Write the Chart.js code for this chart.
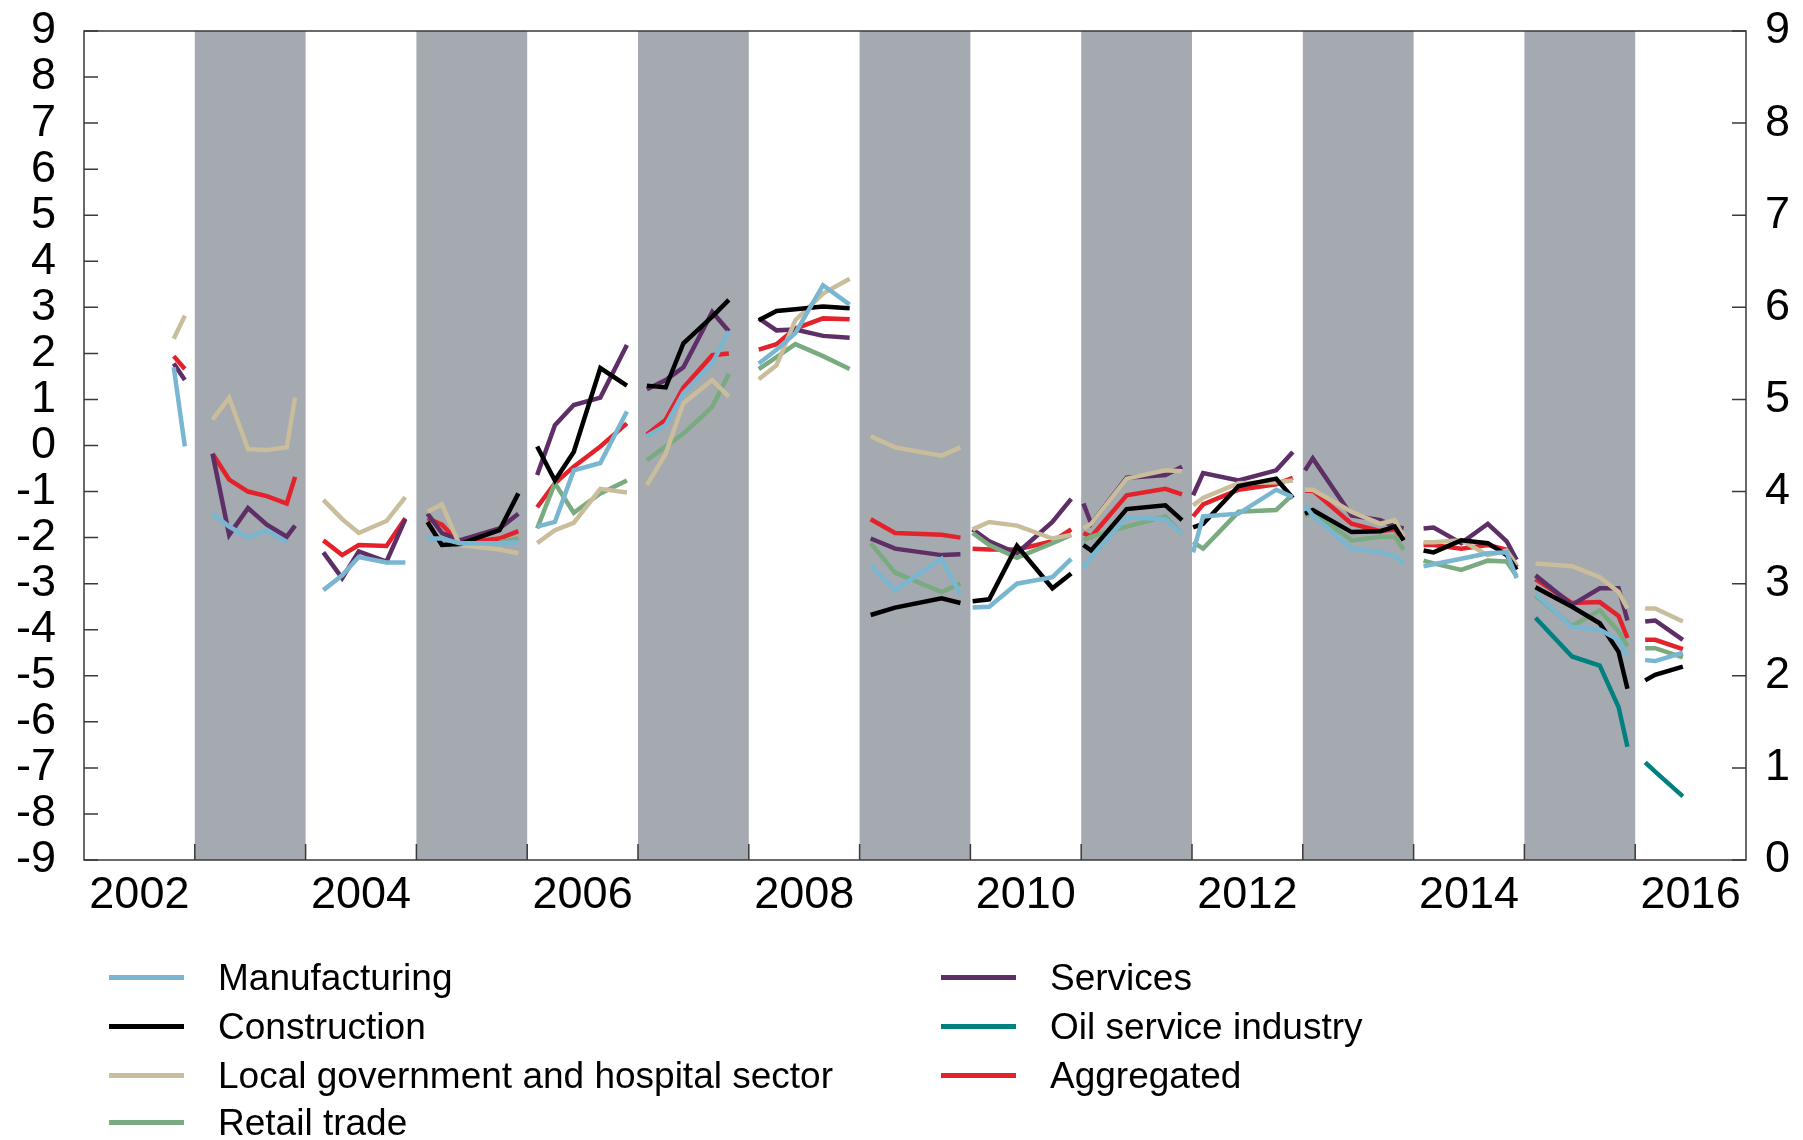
<!DOCTYPE html>
<html>
<head>
<meta charset="utf-8">
<script src="https://cdn.jsdelivr.net/npm/chart.js@4.4.1/dist/chart.umd.min.js"></script>
<style>
html,body{margin:0;padding:0;background:#fff;}
#wrap{position:relative;width:1803px;height:1140px;}
#legend{position:absolute;left:0;top:0;font-family:"Liberation Sans",Arial,sans-serif;font-size:37px;color:#000;}
.item{position:absolute;height:48px;line-height:48px;white-space:nowrap;}
.swatch{position:absolute;left:0;top:21px;width:75px;height:5px;}
.text{position:absolute;left:109px;top:0;}
</style>
</head>
<body>
<div id="wrap">
<canvas id="chart" width="1803" height="1140"></canvas>
<div id="legend"></div>
</div>
<script>

// survey rounds inside each year (fraction of year), one list per year 2002..2016
const years = [2002,2003,2004,2005,2006,2007,2008,2009,2010,2011,2012,2013,2014,2015,2016];
const rounds = [
    [2002.81,2002.91],
    [2003.16,2003.31,2003.48,2003.65,2003.83,2003.905],
    [2004.16,2004.33,2004.48,2004.73,2004.90],
    [2005.10,2005.23,2005.39,2005.75,2005.92],
    [2006.09,2006.25,2006.42,2006.66,2006.90],
    [2007.08,2007.25,2007.41,2007.67,2007.82],
    [2008.09,2008.25,2008.42,2008.67,2008.91],
    [2009.10,2009.32,2009.74,2009.91],
    [2010.02,2010.17,2010.42,2010.74,2010.91],
    [2011.02,2011.09,2011.41,2011.76,2011.91],
    [2012.01,2012.10,2012.42,2012.76,2012.91],
    [2013.02,2013.09,2013.44,2013.70,2013.83,2013.91],
    [2014.09,2014.18,2014.43,2014.67,2014.84,2014.93],
    [2015.10,2015.43,2015.68,2015.85,2015.93],
    [2016.09,2016.18,2016.43]
];

const manufacturing = [
    [5.35,4.49],
    [3.76,3.62,3.50,3.58,3.45,null],
    [2.93,3.09,3.29,3.23,3.23],
    [3.49,3.49,3.44,3.44,3.45],
    [3.62,3.67,4.23,4.31,4.87],
    [4.60,4.72,5.07,5.39,5.74],
    [5.39,5.54,5.72,6.24,6.03],
    [3.20,2.93,3.27,2.88],
    [2.74,2.75,3.00,3.07,3.27],
    [3.17,3.29,3.72,3.70,3.54],
    [3.34,3.73,3.76,4.02,3.94],
    [3.85,3.74,3.38,3.34,3.30,3.22],
    [3.19,3.21,3.27,3.33,3.34,3.06],
    [2.89,2.53,2.50,2.39,2.21],
    [2.17,2.16,2.25]
];

const construction = [
    null,
    null,
    null,
    [3.67,3.42,3.43,3.58,3.98],
    [4.49,4.12,4.43,5.34,5.15],
    [5.15,5.13,5.61,5.90,6.08],
    [5.86,5.96,5.98,6.01,5.99],
    [2.66,2.74,2.84,2.79],
    [2.81,2.83,3.41,2.95,3.11],
    [3.42,3.36,3.81,3.85,3.69],
    [3.61,3.65,4.06,4.14,3.93],
    [3.76,3.80,3.56,3.57,3.62,3.47],
    [3.36,3.34,3.47,3.44,3.31,3.15],
    [2.96,2.75,2.57,2.26,1.86],
    [1.95,2.01,2.10]
];

const localGov = [
    [5.66,5.91],
    [4.78,5.02,4.46,4.45,4.48,5.02],
    [3.91,3.70,3.55,3.68,3.94],
    [3.78,3.86,3.42,3.37,3.33],
    [3.44,3.58,3.66,4.03,3.99],
    [4.07,4.41,4.96,5.21,5.03],
    [5.22,5.37,5.86,6.15,6.31],
    [4.60,4.48,4.39,4.48],
    [3.59,3.67,3.63,3.49,3.53],
    [3.60,3.65,4.14,4.23,4.22],
    [3.85,3.93,4.09,4.10,4.12],
    [4.02,4.02,3.78,3.65,3.69,3.51],
    [3.45,3.45,3.47,3.31,3.36,3.20],
    [3.22,3.19,3.07,2.91,2.73],
    [2.73,2.73,2.59]
];

const retail = [
    null,
    null,
    null,
    [null,null,null,3.45,3.49],
    [3.60,4.09,3.77,3.98,4.12],
    [4.34,4.49,4.63,4.92,5.28],
    [5.33,5.46,5.60,5.47,5.33],
    [3.44,3.12,2.91,3.00],
    [3.55,3.42,3.28,3.44,3.53],
    [3.47,3.51,3.62,3.73,3.54],
    [3.45,3.38,3.78,3.80,3.97],
    [3.73,3.78,3.47,3.51,3.51,3.37],
    [3.25,3.22,3.15,3.25,3.24,3.08],
    [2.87,2.54,2.71,2.48,2.32],
    [2.30,2.30,2.20]
];

const services = [
    [5.39,5.21],
    [4.41,3.53,3.82,3.64,3.51,3.63],
    [3.34,3.06,3.35,3.24,3.70],
    [3.76,3.55,3.47,3.60,3.76],
    [4.18,4.72,4.94,5.02,5.59],
    [5.11,5.21,5.35,5.95,5.74],
    [5.88,5.75,5.76,5.69,5.67],
    [3.49,3.38,3.31,3.32],
    [3.59,3.46,3.33,3.67,3.92],
    [3.87,3.65,4.15,4.18,4.27],
    [3.96,4.20,4.12,4.23,4.43],
    [4.23,4.36,3.74,3.69,3.62,3.60],
    [3.60,3.61,3.44,3.65,3.46,3.26],
    [3.09,2.77,2.95,2.95,2.60],
    [2.59,2.60,2.39]
];

const oilService = [
    null,null,null,null,null,null,null,null,null,null,null,null,null,
    [2.63,2.21,2.11,1.66,1.23],
    [1.06,0.96,0.69]
];

const aggregated = [
    [5.47,5.33],
    [4.41,4.13,4.00,3.95,3.87,4.16],
    [3.47,3.31,3.42,3.41,3.71],
    [3.71,3.64,3.44,3.49,3.57],
    [3.83,4.09,4.27,4.49,4.74],
    [4.62,4.78,5.13,5.48,5.50],
    [5.54,5.60,5.77,5.88,5.87],
    [3.70,3.55,3.53,3.50],
    [3.38,3.37,3.37,3.46,3.59],
    [3.55,3.51,3.96,4.03,3.97],
    [3.73,3.86,4.02,4.08,4.15],
    [4.01,4.01,3.65,3.57,3.59,3.48],
    [3.42,3.42,3.38,3.42,3.37,3.18],
    [3.05,2.79,2.80,2.65,2.41],
    [2.39,2.39,2.29]
];

const seriesNames = [
    "Manufacturing",
    "Construction",
    "Local government and hospital sector",
    "Retail trade",
    "Services",
    "Oil service industry",
    "Aggregated"
];
const seriesValues = [manufacturing,construction,localGov,retail,services,oilService,aggregated];

const labelYears = [2002,2004,2006,2008,2010,2012,2014,2016];
const shadedYears = [2003,2005,2007,2009,2011,2013,2015];

const colors = ["#79b6d1","#000000","#c9bd9b","#7aaa7f","#5e2f66","#00807f","#e3222b"];
const FONT = '"Liberation Sans", Arial, sans-serif';


function buildData(values){
    let data=[];
    rounds.forEach((xs,i)=>{
        let yr = values[i] || [];
        xs.forEach((x,j)=>{
            data.push({x:x, y: yr[j] ?? null});
        });
        // break the line between years
        data.push({x:years[i]+0.97, y:null});
    });
    return data;
}


const framePlugin = {
    id:"frame",
    beforeDatasetsDraw(chart){
        const {ctx, chartArea:a, scales} = chart;
        ctx.save();
        ctx.fillStyle = "#a4aab0";
        shadedYears.forEach(y=>{
            let x0 = scales.x.getPixelForValue(y);
            let x1 = scales.x.getPixelForValue(y+1);
            ctx.fillRect(x0, a.top, x1-x0, a.bottom-a.top);
        });
        ctx.restore();
    },
    afterDatasetsDraw(chart){
        const {ctx, chartArea:a, scales} = chart;
        ctx.save();
        ctx.strokeStyle = "#3a3a3a";
        ctx.lineWidth = 1.5;
        ctx.beginPath();
        // inner tick marks, left axis
        for(let v=-9; v<=9; v++){
            let y = scales.y.getPixelForValue(v);
            ctx.moveTo(a.left, y);
            ctx.lineTo(a.left+14, y);
        }
        // right axis
        for(let v=0; v<=9; v++){
            let y = scales.y2.getPixelForValue(v);
            ctx.moveTo(a.right, y);
            ctx.lineTo(a.right-14, y);
        }
        // year boundaries
        for(let v=2003; v<=2016; v++){
            let x = scales.x.getPixelForValue(v);
            ctx.moveTo(x, a.bottom);
            ctx.lineTo(x, a.bottom-16);
        }
        ctx.stroke();
        ctx.strokeRect(a.left, a.top, a.right-a.left, a.bottom-a.top);
        ctx.restore();
    }
};


let datasets = seriesNames.map((name,i)=>({
    label:name,
    data:buildData(seriesValues[i]),
    borderColor:colors[i],
    backgroundColor:colors[i],
    borderWidth:4.5,
    pointRadius:0,
    fill:false,
    spanGaps:false,
    yAxisID:"y2"
}));


new Chart(
    document.getElementById("chart"),
    {
        type:"line",
        data:{datasets:datasets},
        plugins:[framePlugin],
        options:{
            responsive:false,
            animation:false,
            devicePixelRatio:1,
            layout:{padding:{top:31,left:0,right:0,bottom:220}},
            plugins:{
                legend:{display:false},
                tooltip:{enabled:false}
            },
            scales:{
                x:{
                    type:"linear",
                    min:2002,
                    max:2017,
                    afterBuildTicks:s=>{
                        s.ticks = labelYears.map(v=>({value:v+0.5}));
                    },
                    afterFit:s=>{
                        s.height = 60;
                        s.paddingLeft = 0;
                        s.paddingRight = 0;
                    },
                    ticks:{
                        callback:v=>String(Math.floor(v)),
                        font:{family:FONT,size:45},
                        color:"#000",
                        padding:9,
                        maxRotation:0,
                        autoSkip:false
                    },
                    grid:{display:false,drawTicks:false},
                    border:{display:false}
                },
                y:{
                    type:"linear",
                    position:"left",
                    min:-9,
                    max:9,
                    afterFit:s=>{
                        s.width = 84;
                        s.paddingTop = 0;
                        s.paddingBottom = 0;
                    },
                    ticks:{
                        stepSize:1,
                        autoSkip:false,
                        font:{family:FONT,size:45,lineHeight:1},
                        color:"#000",
                        padding:28
                    },
                    grid:{display:false,drawTicks:false},
                    border:{display:false}
                },
                y2:{
                    type:"linear",
                    position:"right",
                    min:0,
                    max:9,
                    afterFit:s=>{
                        s.width = 57;
                        s.paddingTop = 0;
                        s.paddingBottom = 0;
                    },
                    ticks:{
                        stepSize:1,
                        autoSkip:false,
                        font:{family:FONT,size:45},
                        color:"#000",
                        padding:19
                    },
                    grid:{display:false,drawTicks:false},
                    border:{display:false}
                }
            }
        }
    }
);


// legend, two columns like the original
const legendCols = [109,941];
const legendRows = [978,1027,1076,1123];
let legend = document.getElementById("legend");
seriesNames.forEach((name,i)=>{
    let col = i<4 ? 0 : 1;
    let row = i<4 ? i : i-4;
    let item = document.createElement("div");
    item.className = "item";
    item.style.left = legendCols[col]+"px";
    item.style.top = (legendRows[row]-24)+"px";
    item.innerHTML =
        '<span class="swatch" style="background:'+colors[i]+'"></span>'+
        '<span class="text">'+name+'</span>';
    legend.appendChild(item);
});

</script>
</body>
</html>
